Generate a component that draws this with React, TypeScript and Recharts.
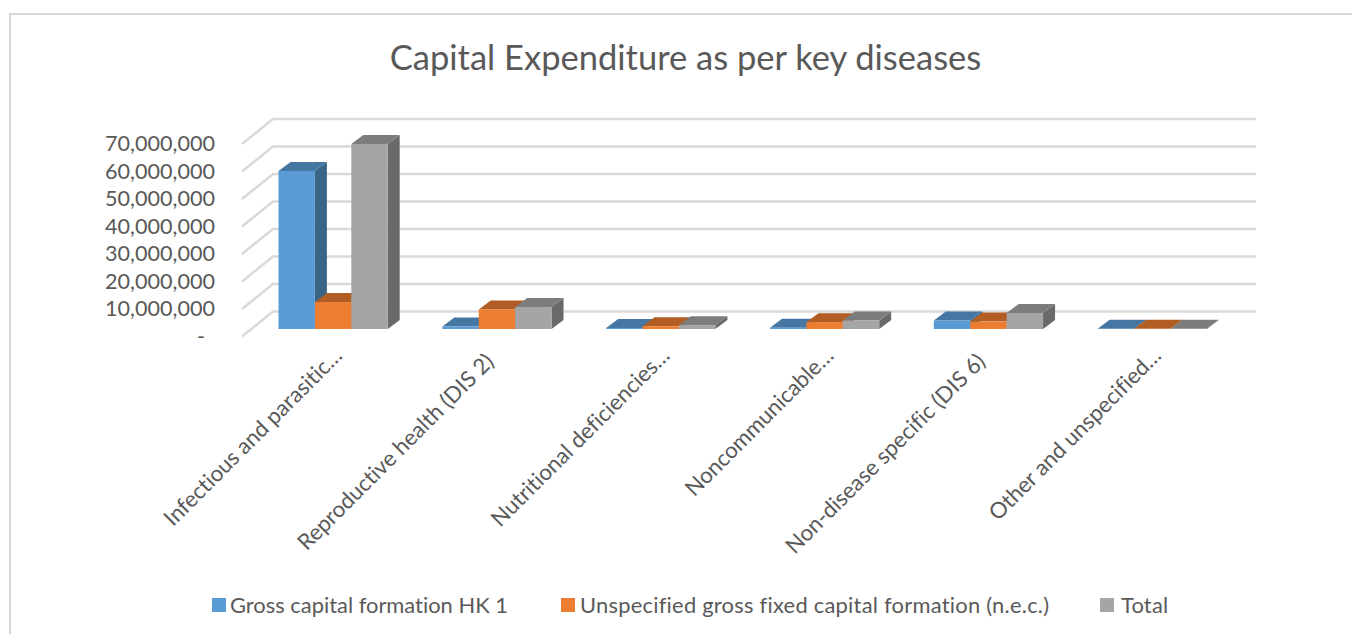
import React from "react";
import { BarChart, Bar, XAxis, YAxis, CartesianGrid, Legend } from "recharts";

const categories = [
  "Infectious and parasitic…",
  "Reproductive health (DIS 2)",
  "Nutritional deficiencies…",
  "Noncommunicable…",
  "Non-disease specific (DIS 6)",
  "Other and unspecified…",
];
const grossCapital = [57500000, 900000, 400000, 500000, 3100000, 50000];
const unspecified = [9800000, 7100000, 1000000, 2500000, 2700000, 50000];
const total = [67300000, 8000000, 1400000, 3100000, 5800000, 100000];
const yTicks = [0, 10000000, 20000000, 30000000, 40000000, 50000000, 60000000, 70000000];

const rows = categories.map((name, i) => ({
  name,
  gross: grossCapital[i],
  unspecified: unspecified[i],
  total: total[i],
}));

const FONT = "Lato, 'Open Sans', sans-serif";
const TEXT = "#595959";
const GRID = "#d9d9d9";
const DX = 12;
const DY = 9;
const noLig = { fontVariantLigatures: "none" } as const;

const Bar3D = (top: string, side: string) => (p: any) => {
  const { x, y, width, height, fill } = p;
  const r = x + width;
  const b = y + height;
  return (
    <g>
      <polygon points={`${r},${y} ${r + DX},${y - DY} ${r + DX},${b - DY} ${r},${b}`} fill={side} />
      <polygon points={`${x},${y} ${x + DX},${y - DY} ${r + DX},${y - DY} ${r},${y}`} fill={top} />
      <rect x={x} y={y} width={width} height={height} fill={fill} />
    </g>
  );
};

const gridLine = (p: any) => (
  <polyline
    key={p.key ?? p.index}
    points={`${p.x1 - 9.5},${p.y1 + 7.5} ${p.x1 + 21.5},${p.y1 - 17.5} ${p.x2 + 21.5},${p.y1 - 17.5}`}
    fill="none"
    stroke={GRID}
    strokeWidth={2.5}
  />
);

const YTick = (p: any) => {
  const v = p.payload.value;
  return (
    <text x={v === 0 ? 205 : 215} y={p.y + 7.5} dy={7} textAnchor="end" fontFamily={FONT} fontSize={21.6} fill={TEXT}>
      {v === 0 ? "-" : v.toLocaleString("en-US")}
    </text>
  );
};

const XTick = (p: any) => {
  const label: string = p.payload.value;
  const ax = p.x + (label.endsWith("…") ? 10 : -2);
  const ay = p.y + (label.endsWith("…") ? 20 : 26);
  return (
    <text
      x={ax}
      y={ay}
      textAnchor="end"
      transform={`rotate(-45 ${ax} ${ay})`}
      fontFamily={FONT}
      fontSize={22.2}
      fill={TEXT}
      style={noLig}
    >
      {label}
    </text>
  );
};

const legendPos = [
  { sq: 212, tx: 230, track: 0 },
  { sq: 561, tx: 580, track: 0.24 },
  { sq: 1100, tx: 1121, track: 0.2 },
];
const LegendBody = (p: any) => (
  <div style={{ position: "relative", height: 0 }}>
    {(p.payload || []).map((e: any, i: number) => (
      <React.Fragment key={e.value}>
        <span style={{ position: "absolute", left: legendPos[i].sq, top: 8, width: 14, height: 14, background: e.color }} />
        <span style={{ position: "absolute", left: legendPos[i].tx, top: 0, fontFamily: FONT, fontSize: 21.9, lineHeight: "30px", letterSpacing: legendPos[i].track, color: TEXT, whiteSpace: "nowrap", ...noLig }}>
          {e.value}
        </span>
      </React.Fragment>
    ))}
  </div>
);

export default function App() {
  return (
    <div style={{ position: "absolute", left: 0, top: 0, width: 1352, height: 634, overflow: "hidden", background: "#fff" }}>
      <div style={{ position: "absolute", left: 9, top: 13, width: 1343, height: 621, borderLeft: `2px solid ${GRID}`, borderTop: `2px solid ${GRID}`, boxSizing: "border-box" }} />
      <div style={{ position: "absolute", left: 0, width: 1371, top: 35, textAlign: "center", fontFamily: FONT, fontSize: 34.5, lineHeight: "44px", color: TEXT, ...noLig }}>
        Capital Expenditure as per key diseases
      </div>
      <div style={{ position: "absolute", left: 0, top: 0 }}>
        <BarChart
          width={1352}
          height={634}
          data={rows}
          margin={{ top: 136.5, right: 117.5, bottom: 105, left: 0 }}
          barSize={36.4}
          barGap={0}
        >
          <CartesianGrid vertical={false} horizontal={gridLine} />
          <XAxis dataKey="name" height={200} axisLine={false} tickLine={false} tick={XTick} interval={0} />
          <YAxis width={251.5} domain={[0, 70000000]} ticks={yTicks} axisLine={false} tickLine={false} tick={YTick} />
          <Legend content={LegendBody} itemSorter={null} wrapperStyle={{ position: "absolute", left: 0, top: 590, width: 1352, height: 0 }} />
          <Bar dataKey="gross" name="Gross capital formation HK 1" fill="#5B9BD5" isAnimationActive={false} shape={Bar3D("#4677A3", "#3A6587")} />
          <Bar dataKey="unspecified" name="Unspecified gross fixed capital formation (n.e.c.)" fill="#ED7D31" isAnimationActive={false} shape={Bar3D("#B25D24", "#9C5120")} />
          <Bar dataKey="total" name="Total" fill="#A5A5A5" isAnimationActive={false} shape={Bar3D("#7C7C7C", "#696969")} />
        </BarChart>
      </div>
    </div>
  );
}
